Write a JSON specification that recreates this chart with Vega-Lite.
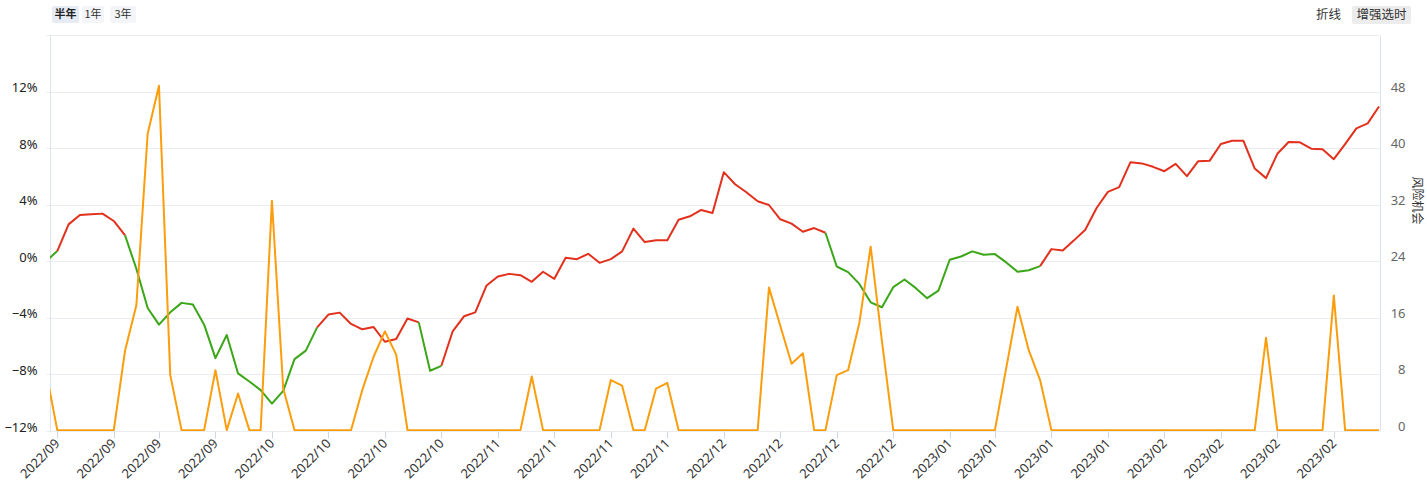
{
  "$schema": "https://vega.github.io/schema/vega-lite/v6.json",
  "width": 1330,
  "height": 396,
  "autosize": {"type": "none"},
  "padding": {"left": 50, "top": 35, "right": 47, "bottom": 72},
  "config": {"view": {"stroke": null}, "font": "Noto Sans"},
  "datasets": {
    "line": [
      {"d":"2022/09/02","v":0.01,"g":1,"t":"dn"},{"d":"2022/09/05","v":0.72,"g":1,"t":"dn"},
      {"d":"2022/09/05","v":0.72,"g":2,"t":"up"},{"d":"2022/09/06","v":2.61,"g":2,"t":"up"},{"d":"2022/09/07","v":3.27,"g":2,"t":"up"},{"d":"2022/09/08","v":3.32,"g":2,"t":"up"},{"d":"2022/09/09","v":3.37,"g":2,"t":"up"},{"d":"2022/09/13","v":2.85,"g":2,"t":"up"},{"d":"2022/09/14","v":1.83,"g":2,"t":"up"},
      {"d":"2022/09/14","v":1.83,"g":3,"t":"dn"},{"d":"2022/09/15","v":-0.53,"g":3,"t":"dn"},{"d":"2022/09/16","v":-3.30,"g":3,"t":"dn"},{"d":"2022/09/19","v":-4.48,"g":3,"t":"dn"},{"d":"2022/09/20","v":-3.61,"g":3,"t":"dn"},{"d":"2022/09/21","v":-2.94,"g":3,"t":"dn"},{"d":"2022/09/22","v":-3.06,"g":3,"t":"dn"},{"d":"2022/09/23","v":-4.48,"g":3,"t":"dn"},{"d":"2022/09/26","v":-6.85,"g":3,"t":"dn"},{"d":"2022/09/27","v":-5.21,"g":3,"t":"dn"},{"d":"2022/09/28","v":-7.93,"g":3,"t":"dn"},{"d":"2022/09/29","v":-8.50,"g":3,"t":"dn"},{"d":"2022/09/30","v":-9.11,"g":3,"t":"dn"},{"d":"2022/10/10","v":-10.06,"g":3,"t":"dn"},{"d":"2022/10/11","v":-9.16,"g":3,"t":"dn"},{"d":"2022/10/12","v":-6.92,"g":3,"t":"dn"},{"d":"2022/10/13","v":-6.32,"g":3,"t":"dn"},{"d":"2022/10/14","v":-4.67,"g":3,"t":"dn"},
      {"d":"2022/10/14","v":-4.67,"g":4,"t":"up"},{"d":"2022/10/17","v":-3.77,"g":4,"t":"up"},{"d":"2022/10/18","v":-3.63,"g":4,"t":"up"},{"d":"2022/10/19","v":-4.43,"g":4,"t":"up"},{"d":"2022/10/20","v":-4.81,"g":4,"t":"up"},{"d":"2022/10/21","v":-4.65,"g":4,"t":"up"},{"d":"2022/10/24","v":-5.69,"g":4,"t":"up"},{"d":"2022/10/25","v":-5.50,"g":4,"t":"up"},{"d":"2022/10/26","v":-4.05,"g":4,"t":"up"},{"d":"2022/10/27","v":-4.32,"g":4,"t":"up"},
      {"d":"2022/10/27","v":-4.32,"g":5,"t":"dn"},{"d":"2022/10/28","v":-7.74,"g":5,"t":"dn"},{"d":"2022/10/31","v":-7.39,"g":5,"t":"dn"},
      {"d":"2022/10/31","v":-7.39,"g":6,"t":"up"},{"d":"2022/11/01","v":-4.95,"g":6,"t":"up"},{"d":"2022/11/02","v":-3.89,"g":6,"t":"up"},{"d":"2022/11/03","v":-3.61,"g":6,"t":"up"},{"d":"2022/11/04","v":-1.71,"g":6,"t":"up"},{"d":"2022/11/07","v":-1.08,"g":6,"t":"up"},{"d":"2022/11/08","v":-0.89,"g":6,"t":"up"},{"d":"2022/11/09","v":-0.98,"g":6,"t":"up"},{"d":"2022/11/10","v":-1.45,"g":6,"t":"up"},{"d":"2022/11/11","v":-0.74,"g":6,"t":"up"},{"d":"2022/11/14","v":-1.24,"g":6,"t":"up"},{"d":"2022/11/15","v":0.25,"g":6,"t":"up"},{"d":"2022/11/16","v":0.15,"g":6,"t":"up"},{"d":"2022/11/17","v":0.53,"g":6,"t":"up"},{"d":"2022/11/18","v":-0.11,"g":6,"t":"up"},{"d":"2022/11/21","v":0.15,"g":6,"t":"up"},{"d":"2022/11/22","v":0.70,"g":6,"t":"up"},{"d":"2022/11/23","v":2.31,"g":6,"t":"up"},{"d":"2022/11/24","v":1.36,"g":6,"t":"up"},{"d":"2022/11/25","v":1.48,"g":6,"t":"up"},{"d":"2022/11/28","v":1.48,"g":6,"t":"up"},{"d":"2022/11/29","v":2.94,"g":6,"t":"up"},{"d":"2022/11/30","v":3.18,"g":6,"t":"up"},{"d":"2022/12/01","v":3.63,"g":6,"t":"up"},{"d":"2022/12/02","v":3.42,"g":6,"t":"up"},{"d":"2022/12/05","v":6.30,"g":6,"t":"up"},{"d":"2022/12/06","v":5.45,"g":6,"t":"up"},{"d":"2022/12/07","v":4.88,"g":6,"t":"up"},{"d":"2022/12/08","v":4.24,"g":6,"t":"up"},{"d":"2022/12/09","v":3.98,"g":6,"t":"up"},{"d":"2022/12/12","v":2.97,"g":6,"t":"up"},{"d":"2022/12/13","v":2.66,"g":6,"t":"up"},{"d":"2022/12/14","v":2.09,"g":6,"t":"up"},{"d":"2022/12/15","v":2.35,"g":6,"t":"up"},{"d":"2022/12/16","v":2.02,"g":6,"t":"up"},
      {"d":"2022/12/16","v":2.02,"g":7,"t":"dn"},{"d":"2022/12/19","v":-0.37,"g":7,"t":"dn"},{"d":"2022/12/20","v":-0.77,"g":7,"t":"dn"},{"d":"2022/12/21","v":-1.60,"g":7,"t":"dn"},{"d":"2022/12/22","v":-2.90,"g":7,"t":"dn"},{"d":"2022/12/23","v":-3.25,"g":7,"t":"dn"},{"d":"2022/12/26","v":-1.83,"g":7,"t":"dn"},{"d":"2022/12/27","v":-1.29,"g":7,"t":"dn"},{"d":"2022/12/28","v":-1.90,"g":7,"t":"dn"},{"d":"2022/12/29","v":-2.61,"g":7,"t":"dn"},{"d":"2022/12/30","v":-2.07,"g":7,"t":"dn"},{"d":"2023/01/03","v":0.11,"g":7,"t":"dn"},{"d":"2023/01/04","v":0.34,"g":7,"t":"dn"},{"d":"2023/01/05","v":0.70,"g":7,"t":"dn"},{"d":"2023/01/06","v":0.46,"g":7,"t":"dn"},{"d":"2023/01/09","v":0.51,"g":7,"t":"dn"},{"d":"2023/01/10","v":-0.08,"g":7,"t":"dn"},{"d":"2023/01/11","v":-0.74,"g":7,"t":"dn"},{"d":"2023/01/12","v":-0.63,"g":7,"t":"dn"},{"d":"2023/01/13","v":-0.34,"g":7,"t":"dn"},
      {"d":"2023/01/13","v":-0.34,"g":8,"t":"up"},{"d":"2023/01/16","v":0.86,"g":8,"t":"up"},{"d":"2023/01/17","v":0.77,"g":8,"t":"up"},{"d":"2023/01/18","v":1.48,"g":8,"t":"up"},{"d":"2023/01/19","v":2.23,"g":8,"t":"up"},{"d":"2023/01/20","v":3.77,"g":8,"t":"up"},{"d":"2023/01/30","v":4.91,"g":8,"t":"up"},{"d":"2023/01/31","v":5.24,"g":8,"t":"up"},{"d":"2023/02/01","v":7.01,"g":8,"t":"up"},{"d":"2023/02/02","v":6.92,"g":8,"t":"up"},{"d":"2023/02/03","v":6.68,"g":8,"t":"up"},{"d":"2023/02/06","v":6.37,"g":8,"t":"up"},{"d":"2023/02/07","v":6.89,"g":8,"t":"up"},{"d":"2023/02/08","v":6.02,"g":8,"t":"up"},{"d":"2023/02/09","v":7.08,"g":8,"t":"up"},{"d":"2023/02/10","v":7.10,"g":8,"t":"up"},{"d":"2023/02/13","v":8.29,"g":8,"t":"up"},{"d":"2023/02/14","v":8.52,"g":8,"t":"up"},{"d":"2023/02/15","v":8.52,"g":8,"t":"up"},{"d":"2023/02/16","v":6.56,"g":8,"t":"up"},{"d":"2023/02/17","v":5.88,"g":8,"t":"up"},{"d":"2023/02/20","v":7.60,"g":8,"t":"up"},{"d":"2023/02/21","v":8.43,"g":8,"t":"up"},{"d":"2023/02/22","v":8.41,"g":8,"t":"up"},{"d":"2023/02/23","v":7.96,"g":8,"t":"up"},{"d":"2023/02/24","v":7.92,"g":8,"t":"up"},{"d":"2023/02/27","v":7.22,"g":8,"t":"up"},{"d":"2023/02/28","v":8.29,"g":8,"t":"up"},{"d":"2023/03/01","v":9.40,"g":8,"t":"up"},{"d":"2023/03/02","v":9.75,"g":8,"t":"up"},{"d":"2023/03/03","v":10.94,"g":8,"t":"up"}
    ],
    "risk": [
      {"d":"2022/09/02","o":8.3},{"d":"2022/09/05","o":0},{"d":"2022/09/06","o":0},{"d":"2022/09/07","o":0},{"d":"2022/09/08","o":0},{"d":"2022/09/09","o":0},{"d":"2022/09/13","o":0},{"d":"2022/09/14","o":11.3},{"d":"2022/09/15","o":17.7},{"d":"2022/09/16","o":42.0},{"d":"2022/09/19","o":48.8},{"d":"2022/09/20","o":7.8},{"d":"2022/09/21","o":0},{"d":"2022/09/22","o":0},{"d":"2022/09/23","o":0},{"d":"2022/09/26","o":8.5},{"d":"2022/09/27","o":0},{"d":"2022/09/28","o":5.2},{"d":"2022/09/29","o":0},{"d":"2022/09/30","o":0},
      {"d":"2022/10/10","o":32.5},{"d":"2022/10/11","o":5.9},{"d":"2022/10/12","o":0},{"d":"2022/10/13","o":0},{"d":"2022/10/14","o":0},{"d":"2022/10/17","o":0},{"d":"2022/10/18","o":0},{"d":"2022/10/19","o":0},{"d":"2022/10/20","o":5.7},{"d":"2022/10/21","o":10.4},{"d":"2022/10/24","o":14.0},{"d":"2022/10/25","o":10.7},{"d":"2022/10/26","o":0},{"d":"2022/10/27","o":0},{"d":"2022/10/28","o":0},{"d":"2022/10/31","o":0},
      {"d":"2022/11/01","o":0},{"d":"2022/11/02","o":0},{"d":"2022/11/03","o":0},{"d":"2022/11/04","o":0},{"d":"2022/11/07","o":0},{"d":"2022/11/08","o":0},{"d":"2022/11/09","o":0},{"d":"2022/11/10","o":7.6},{"d":"2022/11/11","o":0},{"d":"2022/11/14","o":0},{"d":"2022/11/15","o":0},{"d":"2022/11/16","o":0},{"d":"2022/11/17","o":0},{"d":"2022/11/18","o":0},{"d":"2022/11/21","o":7.1},{"d":"2022/11/22","o":6.3},{"d":"2022/11/23","o":0},{"d":"2022/11/24","o":0},{"d":"2022/11/25","o":5.9},{"d":"2022/11/28","o":6.7},{"d":"2022/11/29","o":0},{"d":"2022/11/30","o":0},
      {"d":"2022/12/01","o":0},{"d":"2022/12/02","o":0},{"d":"2022/12/05","o":0},{"d":"2022/12/06","o":0},{"d":"2022/12/07","o":0},{"d":"2022/12/08","o":0},{"d":"2022/12/09","o":20.2},{"d":"2022/12/12","o":14.8},{"d":"2022/12/13","o":9.4},{"d":"2022/12/14","o":10.9},{"d":"2022/12/15","o":0},{"d":"2022/12/16","o":0},{"d":"2022/12/19","o":7.8},{"d":"2022/12/20","o":8.5},{"d":"2022/12/21","o":15.2},{"d":"2022/12/22","o":26.0},{"d":"2022/12/23","o":12.6},{"d":"2022/12/26","o":0},{"d":"2022/12/27","o":0},{"d":"2022/12/28","o":0},{"d":"2022/12/29","o":0},{"d":"2022/12/30","o":0},
      {"d":"2023/01/03","o":0},{"d":"2023/01/04","o":0},{"d":"2023/01/05","o":0},{"d":"2023/01/06","o":0},{"d":"2023/01/09","o":0},{"d":"2023/01/10","o":8.8},{"d":"2023/01/11","o":17.5},{"d":"2023/01/12","o":11.3},{"d":"2023/01/13","o":7.1},{"d":"2023/01/16","o":0},{"d":"2023/01/17","o":0},{"d":"2023/01/18","o":0},{"d":"2023/01/19","o":0},{"d":"2023/01/20","o":0},{"d":"2023/01/30","o":0},{"d":"2023/01/31","o":0},
      {"d":"2023/02/01","o":0},{"d":"2023/02/02","o":0},{"d":"2023/02/03","o":0},{"d":"2023/02/06","o":0},{"d":"2023/02/07","o":0},{"d":"2023/02/08","o":0},{"d":"2023/02/09","o":0},{"d":"2023/02/10","o":0},{"d":"2023/02/13","o":0},{"d":"2023/02/14","o":0},{"d":"2023/02/15","o":0},{"d":"2023/02/16","o":0},{"d":"2023/02/17","o":13.1},{"d":"2023/02/20","o":0},{"d":"2023/02/21","o":0},{"d":"2023/02/22","o":0},{"d":"2023/02/23","o":0},{"d":"2023/02/24","o":0},{"d":"2023/02/27","o":19.1},{"d":"2023/02/28","o":0},{"d":"2023/03/01","o":0},{"d":"2023/03/02","o":0},{"d":"2023/03/03","o":0}
    ]
  },
  "layer": [
    {
      "data": {"name": "line"},
      "mark": {"type": "line", "strokeWidth": 2, "strokeJoin": "round", "clip": true},
      "encoding": {
        "x": {"field": "d", "type": "ordinal", "sort": "ascending",
          "scale": {"type": "point", "padding": 0, "range": [-4, 1329]},
          "axis": {"values": ["2022/09/05","2022/09/13","2022/09/19","2022/09/26","2022/10/10","2022/10/17","2022/10/24","2022/10/31","2022/11/07","2022/11/14","2022/11/21","2022/11/28","2022/12/05","2022/12/12","2022/12/19","2022/12/26","2023/01/03","2023/01/09","2023/01/16","2023/01/30","2023/02/06","2023/02/13","2023/02/20","2023/02/27"],
            "labelExpr": "slice(datum.value, 0, 7)", "labelAngle": -45, "labelAlign": "right", "labelBaseline": "middle",
            "labelPadding": 3, "labelFontSize": 13, "labelColor": "#333", "labelOverlap": false, "labelBound": false, "labelFlush": false,
            "tickSize": 7, "tickColor": "#cfd6e6", "domain": false, "grid": false, "title": null}},
        "y": {"field": "v", "type": "quantitative",
          "scale": {"domain": [-12, 16], "nice": false, "zero": false},
          "axis": {"values": [-12,-8,-4,0,4,8,12,16], "labelExpr": "datum.value == 16 ? '' : format(datum.value, 'd') + '%'",
            "grid": true, "gridColor": "#e9ecf1", "ticks": false, "tickSize": 0, "domain": true, "domainColor": "#dde3ee",
            "labelPadding": 13, "labelBaseline": "alphabetic", "labelFontSize": 13, "labelColor": "#222", "title": null}},
        "color": {"field": "t", "type": "nominal", "scale": {"domain": ["up", "dn"], "range": ["#e2301c", "#3aa618"]}, "legend": null},
        "detail": {"field": "g", "type": "nominal"}
      }
    },
    {
      "data": {"name": "risk"},
      "mark": {"type": "line", "strokeWidth": 2, "color": "#fb9d0c", "strokeJoin": "round", "clip": true},
      "encoding": {
        "x": {"field": "d", "type": "ordinal", "sort": "ascending",
          "scale": {"type": "point", "padding": 0, "range": [-4, 1329]},
          "axis": {"values": ["2022/09/05","2022/09/13","2022/09/19","2022/09/26","2022/10/10","2022/10/17","2022/10/24","2022/10/31","2022/11/07","2022/11/14","2022/11/21","2022/11/28","2022/12/05","2022/12/12","2022/12/19","2022/12/26","2023/01/03","2023/01/09","2023/01/16","2023/01/30","2023/02/06","2023/02/13","2023/02/20","2023/02/27"],
            "labelExpr": "slice(datum.value, 0, 7)", "labelAngle": -45, "labelAlign": "right", "labelBaseline": "middle",
            "labelPadding": 3, "labelFontSize": 13, "labelColor": "#333", "labelOverlap": false, "labelBound": false, "labelFlush": false,
            "tickSize": 7, "tickColor": "#cfd6e6", "domain": false, "grid": false, "title": null}},
        "y": {"field": "o", "type": "quantitative",
          "scale": {"domain": [-0.12, 56], "nice": false, "zero": false},
          "axis": {"orient": "right", "values": [0,8,16,24,32,40,48,56], "labelExpr": "datum.value == 56 ? '' : datum.label",
            "grid": false, "ticks": false, "tickSize": 0, "domain": true, "domainColor": "#dde3ee",
            "labelAlign": "right", "labelPadding": 25, "labelBaseline": "alphabetic", "labelFontSize": 13, "labelColor": "#666",
            "title": "风险机会", "titleAngle": 90, "titleX": 36, "titleY": 165, "titleFontSize": 12, "titleFontWeight": "normal",
            "titleColor": "#333", "titleFont": "Noto Sans CJK SC", "titleAlign": "center", "titleBaseline": "middle"}}
      }
    },
    {"data": {"values": [{}]}, "mark": {"type": "rect", "x": 2, "x2": 29, "y": -29, "y2": -12, "fill": "#e7ecf4", "cornerRadius": 2}, "encoding": {}},
    {"data": {"values": [{}]}, "mark": {"type": "rect", "x": 32, "x2": 54, "y": -29, "y2": -12, "fill": "#f3f5f8", "cornerRadius": 2}, "encoding": {}},
    {"data": {"values": [{}]}, "mark": {"type": "rect", "x": 60, "x2": 86, "y": -29, "y2": -12, "fill": "#f3f5f8", "cornerRadius": 2}, "encoding": {}},
    {"data": {"values": [{}]}, "mark": {"type": "rect", "x": 1302, "x2": 1361, "y": -29, "y2": -11, "fill": "#ececec", "cornerRadius": 2}, "encoding": {}},
    {"data": {"values": [{}]}, "mark": {"type": "text", "text": "半年", "x": 15.5, "y": -20.5, "align": "center", "baseline": "middle", "font": "Noto Sans CJK SC", "fontSize": 11, "fontWeight": "bold", "color": "#222"}, "encoding": {}},
    {"data": {"values": [{}]}, "mark": {"type": "text", "text": "1年", "x": 43, "y": -20.5, "align": "center", "baseline": "middle", "font": "Noto Sans CJK SC", "fontSize": 11, "color": "#333"}, "encoding": {}},
    {"data": {"values": [{}]}, "mark": {"type": "text", "text": "3年", "x": 73, "y": -20.5, "align": "center", "baseline": "middle", "font": "Noto Sans CJK SC", "fontSize": 11, "color": "#333"}, "encoding": {}},
    {"data": {"values": [{}]}, "mark": {"type": "text", "text": "折线", "x": 1278.5, "y": -20.5, "align": "center", "baseline": "middle", "font": "Noto Sans CJK SC", "fontSize": 12.5, "color": "#333"}, "encoding": {}},
    {"data": {"values": [{}]}, "mark": {"type": "text", "text": "增强选时", "x": 1331.5, "y": -20.5, "align": "center", "baseline": "middle", "font": "Noto Sans CJK SC", "fontSize": 12.5, "color": "#333"}, "encoding": {}}
  ],
  "resolve": {"scale": {"y": "independent"}, "axis": {"y": "independent"}}
}
